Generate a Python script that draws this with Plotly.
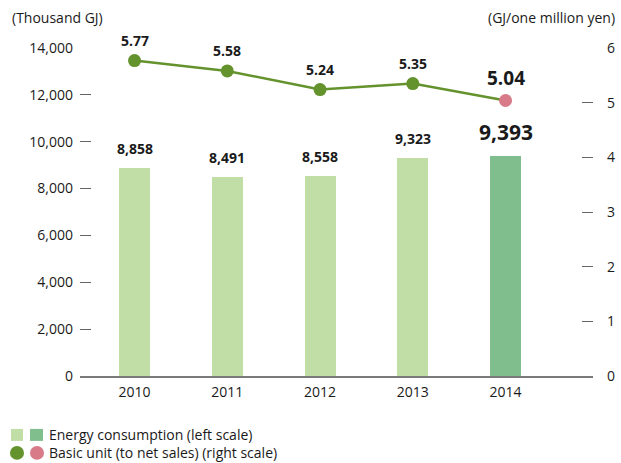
import plotly.graph_objects as go

# datos
years = ["2010", "2011", "2012", "2013", "2014"]
energy = [8858, 8491, 8558, 9323, 9393]
energy_labels = ["8,858", "8,491", "8,558", "9,323", "9,393"]
basic_unit = [5.77, 5.58, 5.24, 5.35, 5.04]
basic_labels = ["5.77", "5.58", "5.24", "5.35", "5.04"]

LIGHT_BAR = "#c0dea6"
DARK_BAR = "#80be8e"
LINE_GREEN = "#64922c"
PINK = "#d87a88"
FONT = "Open Sans"

pos = list(range(len(years)))
bar_colors = [LIGHT_BAR] * (len(years) - 1) + [DARK_BAR]
marker_colors = [LINE_GREEN] * (len(years) - 1) + [PINK]

fig = go.Figure()

fig.add_trace(go.Bar(
    x=pos, y=energy, width=0.335,
    marker=dict(color=bar_colors, line=dict(width=0)),
    showlegend=False, hoverinfo="y",
))

fig.add_trace(go.Scatter(
    x=pos, y=basic_unit, yaxis="y2", mode="lines+markers",
    line=dict(color=LINE_GREEN, width=2.5),
    marker=dict(color=marker_colors, size=13),
    showlegend=False, cliponaxis=False,
))

# etiquetas de valores
annotations = []
for i, (v, t) in enumerate(zip(energy, energy_labels)):
    last = i == len(years) - 1
    annotations.append(dict(
        x=pos[i], y=v, xref="x", yref="y", text=t, showarrow=False,
        yanchor="bottom", yshift=8,
        font=dict(family=FONT, size=21 if last else 14, color="#1a1a1a", weight="bold"),
    ))
for i, (v, t) in enumerate(zip(basic_unit, basic_labels)):
    last = i == len(years) - 1
    annotations.append(dict(
        x=pos[i], y=v, xref="x", yref="y2", text=t, showarrow=False,
        yanchor="bottom", yshift=7 if last else 9,
        font=dict(family=FONT, size=19 if last else 14, color="#1a1a1a", weight="bold"),
    ))

W, H = 621, 463
L, R, T, B = 80, 28, 47.5, 87
pw, ph = W - L - R, H - T - B


# píxeles -> coordenadas paper
def px(x):
    return (x - L) / pw


def py(y):
    return (H - B - y) / ph


# títulos de ejes
annotations.append(dict(x=px(10), y=py(17), xref="paper", yref="paper", text="(Thousand GJ)",
                        showarrow=False, xanchor="left", yanchor="middle"))
annotations.append(dict(x=px(617), y=py(17), xref="paper", yref="paper", text="(GJ/one million yen)",
                        showarrow=False, xanchor="right", yanchor="middle"))

# leyenda manual
legend_text = ["Energy consumption (left scale)", "Basic unit (to net sales) (right scale)"]
shapes = [
    dict(type="rect", xref="paper", yref="paper", x0=px(11), x1=px(23), y0=py(441), y1=py(429),
         fillcolor=LIGHT_BAR, line=dict(width=0)),
    dict(type="rect", xref="paper", yref="paper", x0=px(30), x1=px(43), y0=py(441), y1=py(429),
         fillcolor=DARK_BAR, line=dict(width=0)),
    dict(type="circle", xref="paper", yref="paper", x0=px(10), x1=px(24), y0=py(460), y1=py(446),
         fillcolor=LINE_GREEN, line=dict(width=0)),
    dict(type="circle", xref="paper", yref="paper", x0=px(30), x1=px(44), y0=py(460), y1=py(446),
         fillcolor=PINK, line=dict(width=0)),
]
annotations.append(dict(x=px(47), y=py(435), xref="paper", yref="paper", text=legend_text[0],
                        showarrow=False, xanchor="left", yanchor="middle"))
annotations.append(dict(x=px(47), y=py(453), xref="paper", yref="paper", text=legend_text[1],
                        showarrow=False, xanchor="left", yanchor="middle"))

fig.update_layout(
    width=W, height=H,
    margin=dict(l=L, r=R, t=T, b=B, autoexpand=False),
    plot_bgcolor="white", paper_bgcolor="white",
    font=dict(family=FONT, size=14, color="#1a1a1a"),
    bargap=0,
    xaxis=dict(
        range=[-0.588, 4.943], tickvals=pos, ticktext=years, automargin=False,
        showgrid=False, zeroline=False, showline=True,
        linecolor="#7a7a7a", linewidth=2, ticks="", ticklabelstandoff=2,
    ),
    yaxis=dict(
        range=[0, 14000], dtick=2000, tickformat=",d", automargin=False,
        showgrid=False, zeroline=False, showline=False,
        ticks="inside", ticklen=11, tickcolor="#666", tickwidth=1.2,
        ticklabelstandoff=6,
    ),
    yaxis2=dict(
        range=[0, 6], dtick=1, overlaying="y", side="right", automargin=False,
        showgrid=False, zeroline=False, showline=False,
        ticks="inside", ticklen=11, tickcolor="#666", tickwidth=1.2,
        ticklabelstandoff=13,
    ),
    annotations=annotations, shapes=shapes,
)

fig.write_html("out.html", config={"displayModeBar": False},
               post_script="document.body.style.margin='0';")
